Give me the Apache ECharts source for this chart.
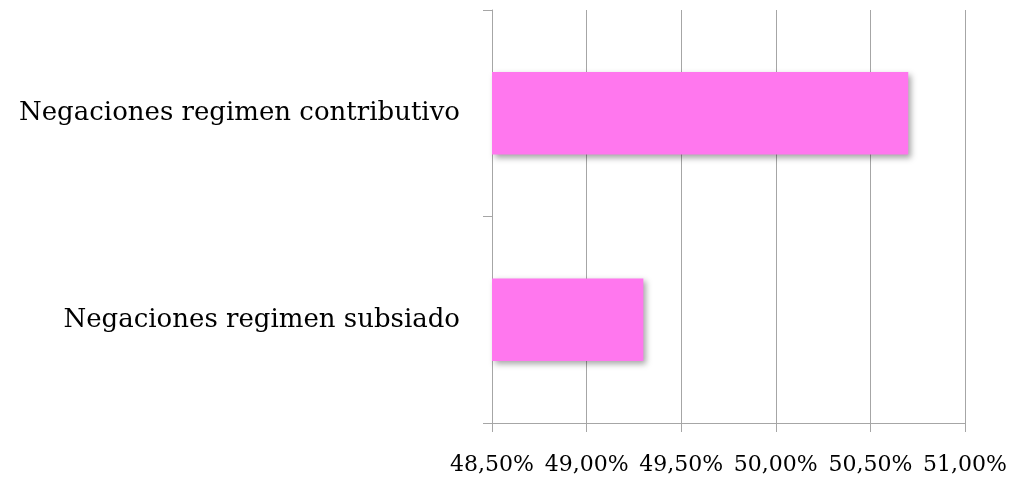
<!DOCTYPE html>
<html>
<head>
<meta charset="utf-8">
<script src="https://cdn.jsdelivr.net/npm/echarts@6/dist/echarts.min.js"></script>
<style>
  html, body { margin: 0; padding: 0; background: #fff; }
  #chart { width: 1013px; height: 478px; }
</style>
</head>
<body>
<div id="chart"></div>
<script>
const categories = ['Negaciones regimen subsiado', 'Negaciones regimen contributivo']
const values = [49.3, 50.7]
const axisMin = 48.5
const axisMax = 51
const axisStep = 0.5

const chart = echarts.init(document.getElementById('chart'))

const fontFamily = '"DejaVu Serif", "Liberation Serif", serif'

chart.setOption({
  animation: false,
  grid: {
    left: 492,
    right: 48,
    top: 10,
    bottom: 55,
  },
  xAxis: {
    type: 'value',
    min: axisMin,
    max: axisMax,
    interval: axisStep,
    axisLine: { show: true, lineStyle: { color: '#a6a6a6', width: 1 } },
    axisTick: { show: true, length: 9, lineStyle: { color: '#a6a6a6' } },
    splitLine: { show: true, lineStyle: { color: '#a6a6a6', width: 1 } },
    axisLabel: {
      margin: 31,
      color: '#000',
      fontFamily: fontFamily,
      fontSize: 22,
      formatter: (v) => v.toFixed(2).replace('.', ',') + '%',
    },
  },
  yAxis: {
    type: 'category',
    data: categories,
    axisLine: { show: true, lineStyle: { color: '#a6a6a6', width: 1 } },
    axisTick: { show: true, length: 9, alignWithLabel: false, lineStyle: { color: '#a6a6a6' } },
    splitLine: { show: false },
    axisLabel: {
      margin: 32,
      color: '#000',
      fontFamily: fontFamily,
      fontSize: 26,
    },
  },
  series: [
    {
      type: 'bar',
      data: values,
      barWidth: '40%',
      itemStyle: {
        color: '#ff77ee',
        shadowColor: 'rgba(0,0,0,0.35)',
        shadowBlur: 6,
        shadowOffsetX: 3,
        shadowOffsetY: 3,
      },
    },
  ],
})
</script>
</body>
</html>
